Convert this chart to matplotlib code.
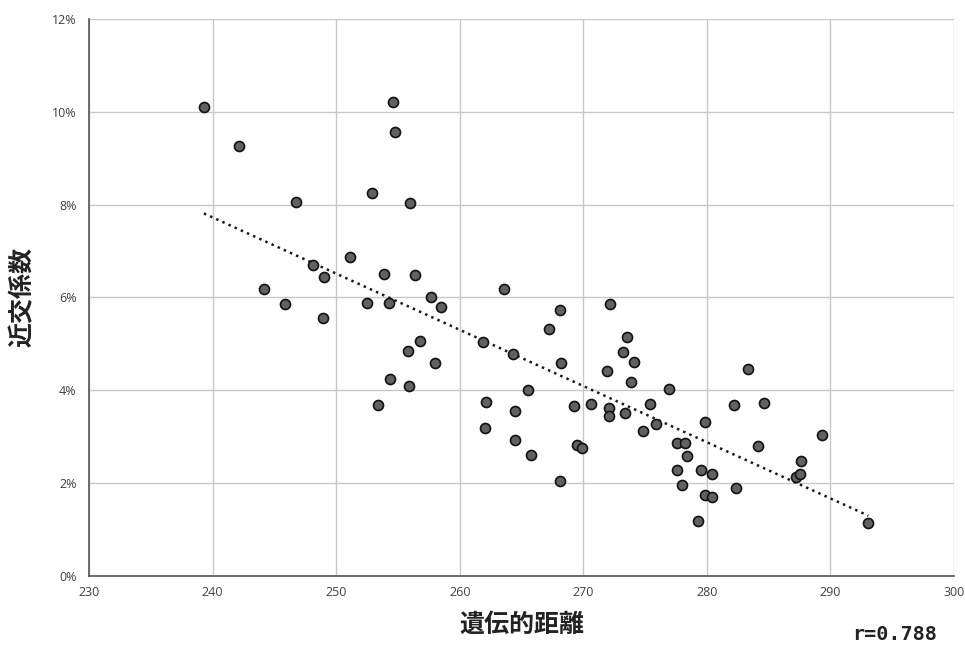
import numpy as np
import matplotlib
matplotlib.use("Agg")
import matplotlib.pyplot as plt
from matplotlib.ticker import FuncFormatter

plt.rcParams['font.family'] = ['Noto Sans CJK JP', 'DejaVu Sans']

genetic_distance = [
    239.3, 242.15, 246.77, 244.13, 245.87, 248.09, 249.0, 248.95, 251.1, 252.9,
    252.5, 253.9, 253.4, 254.6, 254.75, 254.3, 254.4, 256.0, 256.37, 255.8,
    256.77, 255.9, 257.66, 258.47, 258.0, 261.9, 262.1, 262.05, 263.6, 264.35,
    264.5, 264.5, 265.5, 265.75, 267.26, 268.1, 268.2, 268.1, 269.26, 269.5,
    269.88, 270.6, 272.2, 271.96, 272.06, 272.06, 273.5, 273.25, 274.1, 273.9,
    273.4, 274.8, 275.38, 275.9, 276.94, 277.6, 278.2, 278.43, 277.6, 278.0,
    279.3, 279.56, 279.85, 279.85, 280.4, 280.4, 282.2, 282.36, 283.3, 284.17,
    284.6, 287.2, 287.57, 287.6, 289.3, 293.07,
]
inbreeding_coef = [
    10.11, 9.26, 8.05, 6.19, 5.86, 6.71, 6.44, 5.55, 6.88, 8.25,
    5.88, 6.50, 3.69, 10.22, 9.57, 5.88, 4.24, 8.04, 6.48, 4.85,
    5.06, 4.10, 6.01, 5.80, 4.58, 5.05, 3.74, 3.19, 6.18, 4.79,
    3.55, 2.92, 4.00, 2.61, 5.32, 5.74, 4.58, 2.05, 3.66, 2.82,
    2.75, 3.70, 5.86, 4.41, 3.61, 3.45, 5.15, 4.83, 4.61, 4.17,
    3.51, 3.13, 3.70, 3.28, 4.03, 2.875, 2.875, 2.58, 2.29, 1.95,
    1.18, 2.28, 3.31, 1.74, 1.70, 2.19, 3.69, 1.905, 4.45, 2.81,
    3.72, 2.13, 2.19, 2.47, 3.03, 1.14,
]
# trendline (percent = slope * distance + intercept)
trend_slope = -0.1211
trend_intercept = 36.79
x_ticks = [230, 240, 250, 260, 270, 280, 290, 300]
y_ticks = [0, 2, 4, 6, 8, 10, 12]
r_text = "r=0.788"

x = np.array(genetic_distance)
y = np.array(inbreeding_coef)

fig = plt.figure(figsize=(9.65, 6.46), dpi=100)
ax = fig.add_axes([0.0922, 0.1084, 0.8964, 0.8622])

ax.set_xlim(230, 300)
ax.set_ylim(0, 12)
ax.set_xticks(x_ticks)
ax.set_yticks(y_ticks)
ax.yaxis.set_major_formatter(FuncFormatter(lambda v, p: f"{v:.0f}%"))
ax.grid(True, color='#c8c8c8', linewidth=1.0)
ax.set_axisbelow(True)

for s in ['top', 'right']:
    ax.spines[s].set_visible(False)
for s in ['left', 'bottom']:
    ax.spines[s].set_color('#555555')
    ax.spines[s].set_linewidth(1.2)

ax.tick_params(length=0, labelsize=9, colors='#404040')
ax.tick_params(axis='x', pad=7)
ax.tick_params(axis='y', pad=9)
for lab in ax.get_xticklabels() + ax.get_yticklabels():
    lab.set_family(['Open Sans', 'DejaVu Sans'])

xs = np.array([x.min(), x.max()])
ax.plot(xs, trend_slope * xs + trend_intercept, linestyle=(0, (1, 1.7)),
        color='#1a1a1a', linewidth=1.8, zorder=2)

ax.scatter(x, y, s=52, facecolor='#616161', edgecolor='#111111',
           linewidth=1.2, zorder=3)

ax.set_xlabel("遺伝的距離", fontsize=18, fontweight='bold', labelpad=10,
              color='#222222')
ax.set_ylabel("近交係数", fontsize=18, fontweight='bold', labelpad=12,
              color='#222222')

fig.text(0.927, 0.003, r_text, ha='center', va='bottom', fontsize=14.5,
         fontweight='bold', family=['DejaVu Sans Mono'], color='#222222')

fig.savefig("out.png", dpi=100)
